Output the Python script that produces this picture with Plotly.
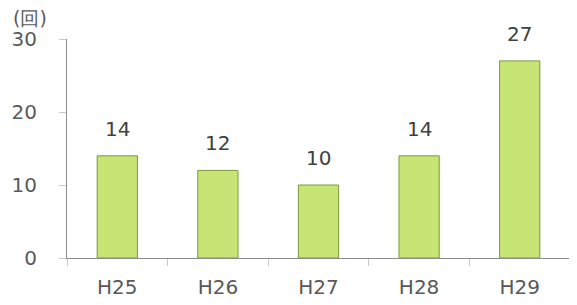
import plotly.graph_objects as go

categories = ["H25", "H26", "H27", "H28", "H29"]
values = [14, 12, 10, 14, 27]
y_ticks = [0, 10, 20, 30]
unit_label = "(回)"

font_family = "Verdana, DejaVu Sans, sans-serif"

fig = go.Figure()
fig.add_trace(go.Bar(
    x=categories, y=values, width=0.4,
    marker=dict(color="#C6E574", line=dict(color="#7A9A3A", width=1)),
    hoverinfo="skip",
))

for c, v in zip(categories, values):
    fig.add_annotation(x=c, y=v, text=str(v), showarrow=False,
                       yanchor="bottom", yshift=13,
                       font=dict(family=font_family, size=20, color="#404040"))

fig.add_annotation(xref="paper", yref="paper", x=-0.111, y=1.035, text=unit_label,
                   showarrow=False, xanchor="left", yanchor="bottom",
                   font=dict(family=font_family, size=19, color="#595959"))

# page body has an 8px default margin; size/margins compensate for it
fig.update_layout(
    width=569, height=297,
    margin=dict(l=59, r=7, t=31, b=47, autoexpand=False),
    paper_bgcolor="white", plot_bgcolor="white",
    showlegend=False,
    bargap=0.6,
    xaxis=dict(
        showline=True, linecolor="#8C8C8C", linewidth=1,
        ticks="outside", tickson="boundaries", ticklen=7, tickcolor="#C8C8C8",
        tickfont=dict(family=font_family, size=20, color="#595959"),
        ticklabelstandoff=11,
        showgrid=False, fixedrange=True, automargin=False,
    ),
    yaxis=dict(
        range=[0, 30], tickvals=y_ticks,
        showline=True, linecolor="#8C8C8C", linewidth=1,
        ticks="outside", ticklen=7, tickcolor="#C8C8C8",
        tickfont=dict(family=font_family, size=20, color="#595959"),
        ticklabelstandoff=18,
        showgrid=False, zeroline=False, fixedrange=True, automargin=False,
    ),
)

fig.write_html("out.html")
